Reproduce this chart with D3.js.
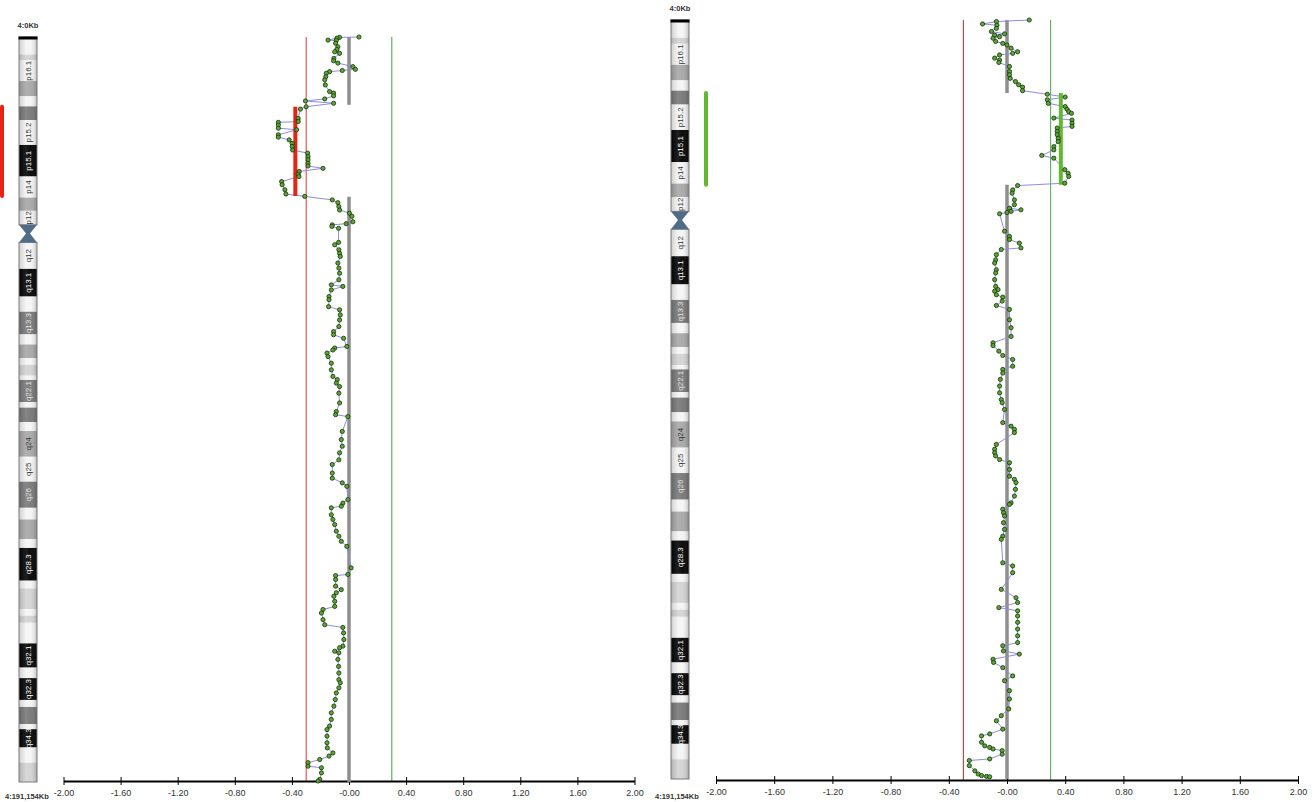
<!DOCTYPE html>
<html>
<head>
<meta charset="utf-8">
<script src="https://cdn.jsdelivr.net/npm/d3@7"></script>
<style>
body { margin: 0; background: #fff; }
text { font-family: "Liberation Sans", Arial, sans-serif; }
</style>
</head>
<body>
<script>
const width = 1315;
const height = 802;
const chromEnd = 191.154; // Mb

// chromosome 4 cytobands: name, start (Mb), end (Mb), stain
var bands = [
  ["p16.3", 0, 4.5, "gneg"], ["p16.2", 4.5, 6.0, "gpos25"], ["p16.1", 6.0, 11.3, "gneg"],
  ["p15.33", 11.3, 15.2, "gpos50"], ["p15.32", 15.2, 17.8, "gneg"], ["p15.31", 17.8, 21.3, "gpos75"],
  ["p15.2", 21.3, 27.7, "gneg"], ["p15.1", 27.7, 35.8, "gpos100"], ["p14", 35.8, 41.2, "gneg"],
  ["p13", 41.2, 44.6, "gpos50"], ["p12", 44.6, 48.2, "gneg"], ["p11", 48.2, 50.4, "acen"],
  ["q11", 50.4, 52.7, "acen"], ["q12", 52.7, 59.5, "gneg"], ["q13.1", 59.5, 66.6, "gpos100"],
  ["q13.2", 66.6, 70.5, "gneg"], ["q13.3", 70.5, 76.3, "gpos75"], ["q21.1", 76.3, 78.9, "gneg"],
  ["q21.21", 78.9, 82.4, "gpos50"], ["q21.22", 82.4, 84.1, "gneg"], ["q21.23", 84.1, 86.9, "gpos25"],
  ["q21.3", 86.9, 88.0, "gneg"], ["q22.1", 88.0, 93.7, "gpos75"], ["q22.2", 93.7, 95.1, "gneg"],
  ["q22.3", 95.1, 98.8, "gpos75"], ["q23", 98.8, 101.1, "gneg"], ["q24", 101.1, 107.7, "gpos50"],
  ["q25", 107.7, 114.1, "gneg"], ["q26", 114.1, 120.8, "gpos75"], ["q27", 120.8, 123.8, "gneg"],
  ["q28.1", 123.8, 128.8, "gpos50"], ["q28.2", 128.8, 131.1, "gneg"], ["q28.3", 131.1, 139.5, "gpos100"],
  ["q31.1", 139.5, 141.5, "gneg"], ["q31.21", 141.5, 146.8, "gpos25"], ["q31.22", 146.8, 148.5, "gneg"],
  ["q31.23", 148.5, 150.3, "gpos25"], ["q31.3", 150.3, 155.6, "gneg"], ["q32.1", 155.6, 161.8, "gpos100"],
  ["q32.2", 161.8, 164.5, "gneg"], ["q32.3", 164.5, 170.1, "gpos100"], ["q33", 170.1, 171.9, "gneg"],
  ["q34.1", 171.9, 176.3, "gpos75"], ["q34.2", 176.3, 177.6, "gneg"], ["q34.3", 177.6, 182.3, "gpos100"],
  ["q35.1", 182.3, 186.2, "gneg"], ["q35.2", 186.2, 191.154, "gpos25"]
];

// bands that carry a name on the ideogram
var labeledBands = ["p16.1", "p15.2", "p15.1", "p14", "p12", "q12", "q13.1", "q13.3", "q22.1",
  "q24", "q25", "q26", "q28.3", "q32.1", "q32.3", "q34.3"];

var tickValues = [-2, -1.6, -1.2, -0.8, -0.4, 0, 0.4, 0.8, 1.2, 1.6, 2];
var tickLabels = ["-2.00", "-1.60", "-1.20", "-0.80", "-0.40", "-0.00", "0.40", "0.80", "1.20", "1.60", "2.00"];

var thresholds = [-0.3, 0.3];

// probes of the first sample: position (Mb), log2 ratio
var leftProbes = [
  [0, 0.07], [0.1, -0.066], [0.3, -0.085], [0.8, -0.147], [0.9, -0.089], [1.6, -0.094], [2.5, -0.078],
  [3.2, -0.085], [3.8, -0.10], [4.2, -0.066], [5.5, -0.106], [6.1, -0.108], [6.7, -0.078], [7.6, 0.027],
  [8.3, 0.045], [8.6, -0.047], [8.9, -0.136], [9.3, -0.159], [10.2, -0.163], [11.0, -0.17], [12.3, -0.166],
  [14.0, -0.136], [14.4, -0.108], [15.1, -0.108], [15.9, -0.17], [16.4, -0.305], [17.0, -0.108], [17.9, -0.30],
  [18.5, -0.34], [20.9, -0.356], [21.7, -0.356], [21.9, -0.495], [22.6, -0.495], [23.4, -0.495], [23.8, -0.367],
  [25.1, -0.495], [25.7, -0.495], [26.4, -0.419], [27.3, -0.398], [28.1, -0.398], [29.0, -0.395], [29.8, -0.29],
  [30.7, -0.287], [31.5, -0.287], [32.4, -0.287], [33.1, -0.287], [33.7, -0.182], [34.5, -0.349], [35.2, -0.356],
  [35.8, -0.351], [37.1, -0.472], [37.9, -0.468], [39.2, -0.449], [40.3, -0.442], [40.9, -0.31], [41.8, -0.117],
  [42.5, -0.078], [43.5, -0.071], [44.4, -0.066], [45.2, 0.003], [46.0, 0.02], [47.4, 0.027], [47.9, -0.02],
  [48.2, -0.117], [48.6, -0.12], [49.1, -0.073], [52.7, -0.073], [53.3, -0.10], [54.6, -0.071], [55.5, -0.066],
  [56.3, -0.061], [58.0, -0.078], [59.3, -0.071], [60.6, -0.066], [62.3, -0.071], [63.6, -0.124], [64.0, -0.043],
  [64.9, -0.124], [66.6, -0.14], [67.4, -0.14], [69.2, -0.143], [70.0, -0.066], [71.3, -0.061], [72.6, -0.066],
  [74.3, -0.071], [75.6, -0.108], [76.4, -0.108], [77.3, -0.038], [79.4, -0.015], [79.8, -0.10], [80.3, -0.113],
  [81.1, -0.154], [82.0, -0.147], [83.7, -0.124], [85.4, -0.124], [87.1, -0.113], [87.9, -0.082], [88.8, -0.089],
  [89.7, -0.066], [91.4, -0.071], [93.9, -0.066], [96.1, -0.089], [96.9, -0.094], [97.4, -0.008], [101.2, -0.047],
  [103.3, -0.054], [105.0, -0.047], [106.7, -0.066], [108.5, -0.071], [109.7, -0.117], [111.9, -0.117], [113.2, -0.117],
  [114.4, -0.047], [115.3, -0.015], [118.7, -0.008], [119.6, -0.043], [120.4, -0.054], [120.8, -0.124], [122.6, -0.124],
  [123.8, -0.113], [125.1, -0.10], [126.8, -0.089], [128.1, -0.071], [129.4, -0.054], [130.7, -0.015], [136.2, 0.015],
  [137.9, -0.008], [138.2, -0.094], [139.2, -0.094], [140.9, -0.094], [141.8, -0.054], [142.6, -0.089], [143.5, -0.106],
  [144.8, -0.10], [146.1, -0.10], [146.9, -0.182], [147.8, -0.193], [149.5, -0.182], [150.8, -0.17], [151.5, -0.043],
  [152.9, -0.038], [154.6, -0.036], [156.3, -0.043], [156.7, -0.066], [157.6, -0.10], [158.0, -0.071], [159.7, -0.078],
  [161.5, -0.073], [163.2, -0.071], [164.9, -0.071], [165.7, -0.061], [167.0, -0.071], [168.3, -0.089], [170.0, -0.096],
  [171.7, -0.106], [173.4, -0.124], [175.1, -0.124], [176.8, -0.136], [177.7, -0.154], [179.4, -0.154], [181.1, -0.154],
  [182.4, -0.152], [183.7, -0.113], [184.5, -0.14], [185.4, -0.205], [186.2, -0.287], [187.1, -0.287], [187.5, -0.193],
  [188.8, -0.193], [190.5, -0.205], [190.9, -0.217]
];

// probes of the second sample
var rightProbes = [
  [0, 0.153], [0.4, -0.073], [1.0, -0.168], [1.3, -0.069], [2.1, -0.073], [2.9, -0.107], [3.5, -0.017],
  [3.8, -0.085], [4.2, -0.051], [4.6, -0.096], [5.4, -0.078], [5.9, -0.029], [6.3, 0.0], [7.1, 0.028],
  [8.0, 0.073], [8.4, 0.039], [8.8, -0.051], [9.6, -0.085], [10.1, -0.051], [10.7, -0.056], [11.7, 0.017],
  [13.0, 0.017], [13.8, 0.017], [14.7, 0.022], [15.5, 0.058], [16.3, 0.08], [16.9, 0.107], [17.8, 0.107],
  [18.7, 0.277], [19.4, 0.40], [20.1, 0.277], [21.0, 0.284], [21.8, 0.40], [22.5, 0.413], [23.1, 0.424],
  [23.5, 0.443], [24.7, 0.322], [25.2, 0.447], [26.0, 0.447], [26.8, 0.447], [27.2, 0.345], [28.1, 0.345],
  [28.9, 0.345], [29.8, 0.352], [30.6, 0.352], [31.9, 0.322], [32.7, 0.322], [34.1, 0.239], [34.8, 0.322],
  [37.7, 0.397], [38.6, 0.42], [39.4, 0.424], [41.1, 0.397], [41.7, 0.073], [42.8, 0.039], [43.6, 0.035],
  [45.3, 0.051], [46.5, 0.051], [47.4, 0.017], [47.8, 0.096], [48.2, 0.028], [48.5, 0.0], [48.8, -0.051],
  [53.2, -0.017], [54.5, 0.017], [55.3, 0.017], [56.2, 0.085], [57.4, 0.096], [57.8, -0.039], [59.1, -0.073],
  [60.4, -0.078], [61.2, -0.085], [62.9, -0.073], [63.7, -0.078], [65.4, -0.085], [67.1, -0.078], [67.9, -0.062],
  [68.3, -0.085], [69.2, -0.073], [69.8, -0.029], [70.8, -0.033], [71.9, -0.073], [72.9, 0.017], [75.5, 0.017],
  [77.5, 0.028], [79.7, 0.028], [81.3, -0.096], [82.0, -0.096], [83.4, -0.056], [84.5, -0.029], [85.5, 0.039],
  [87.2, 0.039], [88.0, -0.029], [88.9, -0.029], [90.5, -0.046], [92.2, -0.051], [93.9, -0.051], [95.6, -0.039],
  [96.4, -0.033], [98.1, -0.017], [101.4, -0.029], [102.3, 0.028], [103.1, 0.051], [103.9, 0.051], [106.9, -0.073],
  [108.1, -0.085], [109.0, -0.085], [109.8, -0.078], [110.7, -0.051], [111.5, 0.017], [113.2, 0.017], [114.9, 0.017],
  [115.7, 0.051], [116.5, 0.062], [118.2, 0.058], [119.9, 0.051], [121.6, 0.028], [122.0, 0.017], [123.2, -0.029],
  [124.1, -0.024], [124.9, -0.017], [126.6, -0.024], [128.3, -0.017], [130.0, -0.029], [130.8, -0.039], [136.7, -0.029],
  [137.5, 0.039], [139.2, 0.039], [143.4, -0.039], [145.5, 0.062], [146.7, 0.073], [148.0, -0.056], [148.8, 0.073],
  [150.1, 0.073], [151.7, 0.073], [153.4, 0.073], [155.1, 0.073], [156.8, 0.073], [157.6, -0.029], [158.9, -0.024],
  [159.7, 0.085], [161.0, -0.096], [161.8, -0.092], [163.1, -0.029], [165.2, 0.039], [166.4, -0.017], [168.9, 0.017],
  [171.0, 0.017], [173.5, 0.012], [175.2, -0.039], [176.5, -0.073], [178.6, -0.029], [179.8, -0.119], [180.3, -0.175],
  [181.9, -0.175], [182.8, -0.153], [183.2, -0.119], [183.6, -0.096], [184.0, -0.033], [184.9, -0.033], [186.1, -0.119],
  [186.5, -0.259], [187.8, -0.259], [189.1, -0.221], [189.9, -0.198], [190.3, -0.175], [190.5, -0.141], [190.6, -0.119]
];

// segments: start (Mb), end (Mb), mean, call
var leftSegments = [[0, 17.4, 0, "normal"], [17.9, 40.8, -0.376, "loss"], [41.0, 191.154, 0, "normal"]];
var rightSegments = [[0, 18.4, 0, "normal"], [18.4, 41.5, 0.37, "gain"], [41.5, 191.154, 0, "normal"]];

var stainColor = {
  gneg: "#f4f4f4", gpos25: "#d2d2d2", gpos50: "#a6a6a6", gpos75: "#767676", gpos100: "#000000", acen: "#516c86"
};
var callColor = { normal: "#8e8e8e", loss: "#e8230f", gain: "#62b832" };

var svg = d3.select("body")
  .append("svg")
  .attr("width", width)
  .attr("height", height);

// cylinder shading for the ideogram
var grad = svg.append("defs").append("linearGradient").attr("id", "shade");
grad.append("stop").attr("offset", "0%").attr("stop-color", "#000").attr("stop-opacity", 0.16);
grad.append("stop").attr("offset", "40%").attr("stop-color", "#fff").attr("stop-opacity", 0.12);
grad.append("stop").attr("offset", "65%").attr("stop-color", "#fff").attr("stop-opacity", 0.05);
grad.append("stop").attr("offset", "100%").attr("stop-color", "#000").attr("stop-opacity", 0.22);

drawPanel({
  ideoX: 19, ideoW: 18, top: 37, bottom: 782, axisY: 781,
  x0: 63.5, x1: 634.5, markX: 2, bottomLabelX: 5,
  lossLine: "#e03434", gainLine: "#3f9d3f"
}, leftProbes, leftSegments);

drawPanel({
  ideoX: 671, ideoW: 18, top: 20, bottom: 779, axisY: 780,
  x0: 716, x1: 1298, markX: 706, bottomLabelX: 655,
  lossLine: "#a33030", gainLine: "#4ea54e"
}, rightProbes, rightSegments);

function drawPanel(p, probes, segments) {
  var y = d3.scaleLinear().domain([0, chromEnd]).range([p.top, p.bottom]);
  var x = d3.scaleLinear().domain([-2, 2]).range([p.x0, p.x1]);
  var g = svg.append("g");

  drawIdeogram(g, y, p);

  // threshold lines
  g.selectAll("line.thr")
    .data(thresholds)
    .enter()
    .append("line")
    .attr("x1", d => x(d)).attr("x2", d => x(d))
    .attr("y1", p.top).attr("y2", p.axisY)
    .attr("stroke", d => d < 0 ? p.lossLine : p.gainLine)
    .attr("stroke-width", 1);

  // axis
  var axis = d3.axisBottom(x)
    .tickValues(tickValues)
    .tickFormat((d, i) => tickLabels[i])
    .tickSize(4)
    .tickSizeOuter(0);
  var ga = g.append("g")
    .attr("transform", "translate(0," + p.axisY + ")")
    .call(axis);
  ga.select(".domain").attr("stroke", "#000").attr("stroke-width", 2);
  ga.selectAll(".tick line").attr("y1", -4).attr("y2", 4).attr("stroke", "#000");
  ga.selectAll(".tick text")
    .attr("y", 9)
    .attr("fill", "#333")
    .style("font-size", "9px")
    .style("font-family", "'Liberation Sans', Arial, sans-serif");

  // segment means
  var called = segments.filter(s => s[3] !== "normal");
  g.selectAll("line.seg")
    .data(segments.filter(s => s[3] === "normal"))
    .enter()
    .append("line")
    .attr("x1", d => x(d[2])).attr("x2", d => x(d[2]))
    .attr("y1", d => y(d[0])).attr("y2", d => y(d[1]))
    .attr("stroke", d => callColor[d[3]])
    .attr("stroke-width", 3.5);

  // probe trace
  var line = d3.line().x(d => x(d[1])).y(d => y(d[0]));
  g.append("path")
    .datum(probes)
    .attr("d", line)
    .attr("fill", "none")
    .attr("stroke", "#8d8de0")
    .attr("stroke-width", 1);

  g.selectAll("line.call")
    .data(called)
    .enter()
    .append("line")
    .attr("x1", d => x(d[2])).attr("x2", d => x(d[2]))
    .attr("y1", d => y(d[0])).attr("y2", d => y(d[1]))
    .attr("stroke", d => callColor[d[3]])
    .attr("stroke-width", 4);

  // call marker beside the ideogram
  g.selectAll("line.mark")
    .data(called)
    .enter()
    .append("line")
    .attr("x1", p.markX).attr("x2", p.markX)
    .attr("y1", d => y(d[0])).attr("y2", d => y(d[1]))
    .attr("stroke", d => callColor[d[3]])
    .attr("stroke-width", 4)
    .attr("stroke-linecap", "round");

  g.selectAll("circle")
    .data(probes)
    .enter()
    .append("circle")
    .attr("cx", d => x(d[1]))
    .attr("cy", d => y(d[0]))
    .attr("r", 2.1)
    .attr("fill", "#5ea634")
    .attr("stroke", "#12300a")
    .attr("stroke-width", 0.8);

  // chromosome start / end labels
  g.append("text")
    .attr("x", p.ideoX + p.ideoW / 2)
    .attr("y", p.top - 9)
    .attr("text-anchor", "middle")
    .attr("font-size", 7.5)
    .attr("font-weight", "bold")
    .attr("fill", "#333")
    .text("4:0Kb");
  g.append("text")
    .attr("x", p.bottomLabelX)
    .attr("y", 799)
    .attr("font-size", 7.5)
    .attr("font-weight", "bold")
    .attr("fill", "#333")
    .text("4:191,154Kb");
}

function drawIdeogram(g, y, p) {
  var ix = p.ideoX, iw = p.ideoW;
  var cen = bands.filter(b => b[3] === "acen");
  var cTop = y(cen[0][1]), cMid = y(cen[0][2]), cBot = y(cen[1][2]);

  g.selectAll("rect.band")
    .data(bands.filter(b => b[3] !== "acen"))
    .enter()
    .append("rect")
    .attr("x", ix)
    .attr("width", iw)
    .attr("y", d => y(d[1]))
    .attr("height", d => y(d[2]) - y(d[1]))
    .attr("fill", d => stainColor[d[3]]);

  // shading and outline of both arms
  var arms = [[y(0), cTop], [cBot, y(chromEnd)]];
  g.selectAll("rect.shade")
    .data(arms)
    .enter()
    .append("rect")
    .attr("x", ix).attr("width", iw)
    .attr("y", d => d[0]).attr("height", d => d[1] - d[0])
    .attr("fill", "url(#shade)")
    .attr("stroke", "#7a7a7a")
    .attr("stroke-width", 1);

  // centromere
  g.append("polygon")
    .attr("points", [
      [ix, cTop], [ix + iw, cTop], [ix + iw / 2 + 2, cMid],
      [ix + iw, cBot], [ix, cBot], [ix + iw / 2 - 2, cMid]
    ].join(" "))
    .attr("fill", stainColor.acen);

  // black cap at the p terminal
  g.append("rect")
    .attr("x", ix - 0.5).attr("y", y(0) - 0.5)
    .attr("width", iw + 1).attr("height", 3)
    .attr("fill", "#000");

  g.selectAll("text.band")
    .data(bands.filter(b => labeledBands.indexOf(b[0]) >= 0))
    .enter()
    .append("text")
    .attr("transform", d => "translate(" + (ix + iw / 2 + 3) + "," + y((d[1] + d[2]) / 2) + ") rotate(-90)")
    .attr("text-anchor", "middle")
    .attr("font-size", 8)
    .attr("fill", d => d[3] === "gpos100" ? "#fff" : (d[3] === "gpos75" ? "#e4e4e4" : "#333"))
    .text(d => d[0]);
}
</script>
</body>
</html>
